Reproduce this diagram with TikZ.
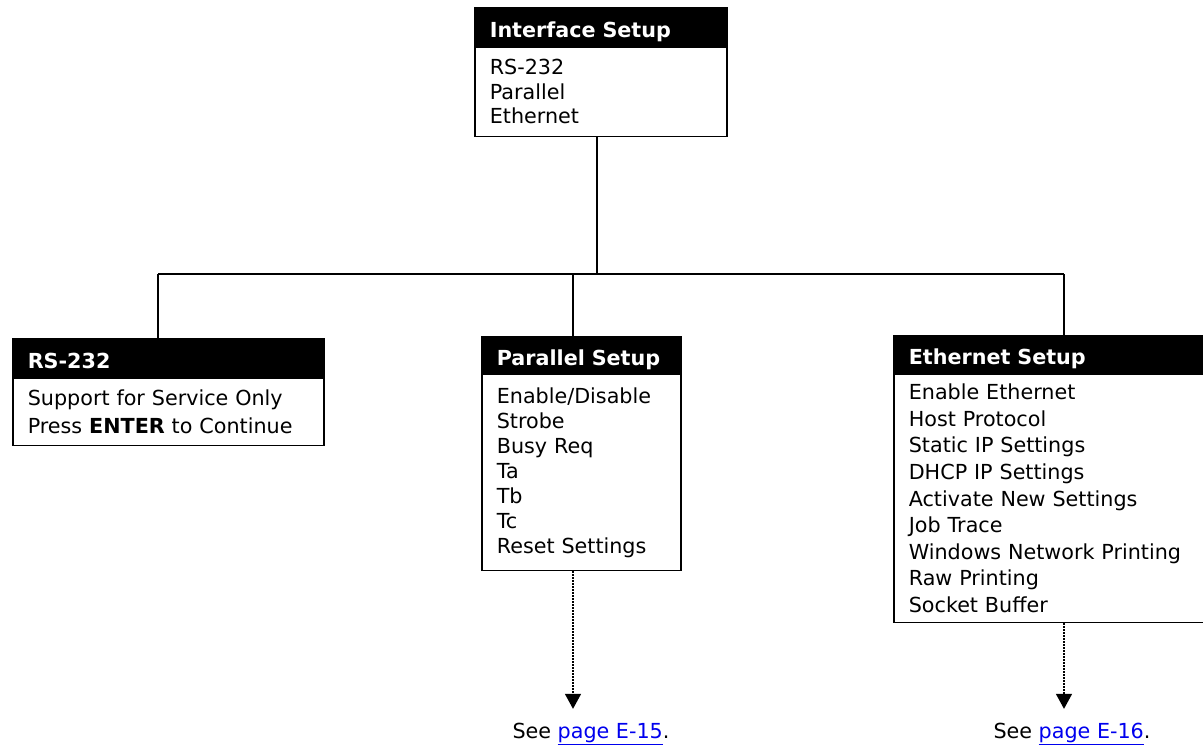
\documentclass[tikz,border=0pt]{standalone}
\usepackage{fontspec}
\setmainfont{DejaVu Sans}
\usetikzlibrary{arrows.meta}
\definecolor{linkblue}{RGB}{0,0,238}

\begin{document}
\begin{tikzpicture}[x=1pt, y=-1pt, line width=1.6pt,
    hdr/.style={draw, fill=black, text=white, anchor=north west, align=left,
        font=\fontsize{20.7}{25}\selectfont\bfseries,
        inner xsep=15pt, inner ysep=0pt, minimum height=38pt,
        text height=21pt, text depth=0pt},
    menu/.style={draw, fill=white, anchor=north west, align=left,
        font=\fontsize{20.7}{#1}\selectfont, inner xsep=15pt, inner ysep=0pt},
    see/.style={anchor=base, font=\fontsize{20.7}{25}\selectfont,
        inner xsep=0pt, inner ysep=13pt},
    goto/.style={line width=1.4pt, dash pattern=on 1.4pt off 1.6pt,
        -{Triangle[width=16pt,length=15pt]}}]
    \useasboundingbox (0,0) rectangle (1203,747);

    % top menu
    \node[hdr, text width=222pt] (ifhdr) at (474,7) {Interface Setup};
    \node[menu=24.5, text width=222pt, minimum height=89pt] (ifbody)
        at (ifhdr.south west) {RS-232\\Parallel\\Ethernet};

    % sub menus
    \node[hdr, text width=281pt] (rshdr) at (12,338) {RS-232};
    \node[menu=28, text width=281pt, minimum height=67pt] (rsbody)
        at (rshdr.south west) {Support for Service Only\\Press \textbf{ENTER} to Continue};

    \node[hdr, text width=169pt, minimum height=36pt] (parhdr) at (481,336) {Parallel Setup};
    \node[menu=25, text width=169pt, minimum height=196pt] (parbody)
        at (parhdr.south west) {Enable/Disable\\Strobe\\Busy Req\\Ta\\Tb\\Tc\\Reset Settings};

    \node[hdr, text width=312pt, minimum height=37pt] (ethhdr) at (893,335) {Ethernet Setup};
    \node[menu=26.6, text width=312pt, minimum height=248pt] (ethbody)
        at (ethhdr.south west) {Enable Ethernet\\Host Protocol\\Static IP Settings\\DHCP IP Settings\\Activate New Settings\\Job Trace\\Windows Network Printing\\Raw Printing\\Socket Buffer};

    \node[see] (see15) at (591,738) {See {\color{linkblue}\underline{page E-15}}.};
    \node[see] (see16) at (1072,738) {See {\color{linkblue}\underline{page E-16}}.};

    % tree lines
    \coordinate (trunk) at (597,274);
    \coordinate (busL) at (158,274);
    \coordinate (busM) at (573,274);
    \coordinate (busR) at (1064,274);
    \draw (ifbody.south -| trunk) -- (trunk);
    \draw (busL) -- (busR);
    \draw (busL) -- (busL |- rshdr.north);
    \draw (busM) -- (busM |- parhdr.north);
    \draw (busR) -- (busR |- ethhdr.north);

    \draw[goto] (parbody.south -| busM) -- (busM |- see15.north);
    \draw[goto] (ethbody.south -| busR) -- (busR |- see16.north);
\end{tikzpicture}
\end{document}
